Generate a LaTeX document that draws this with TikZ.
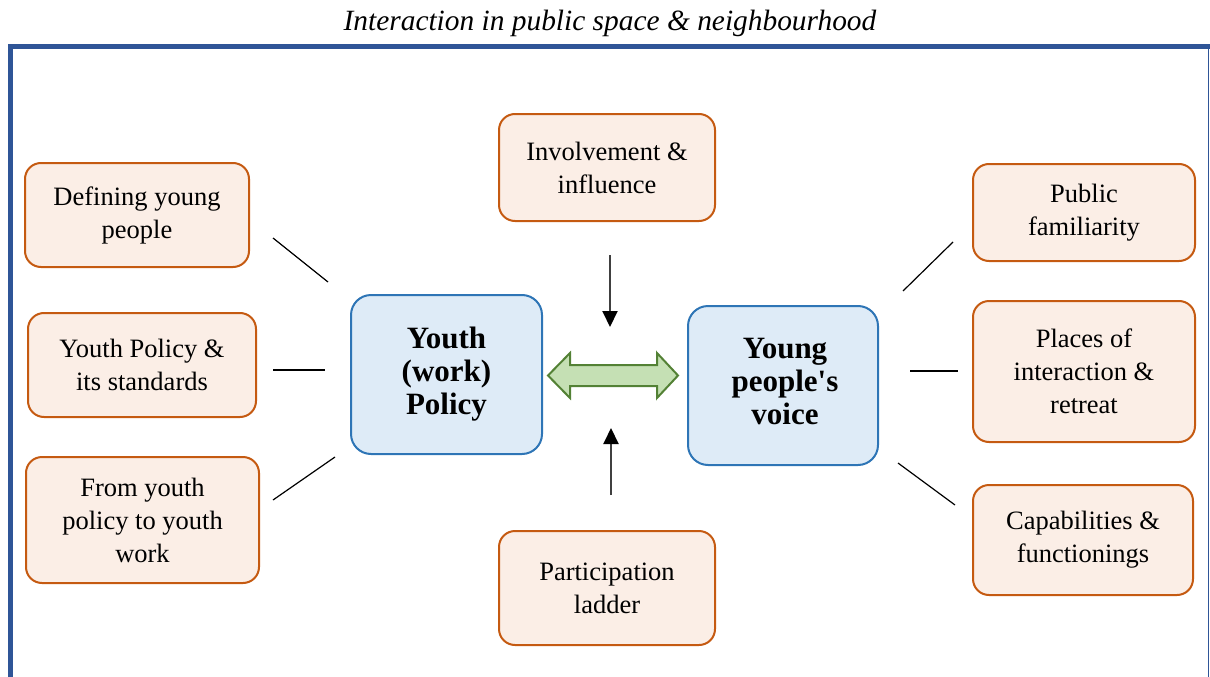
\documentclass[tikz,border=0pt]{standalone}
\usepackage{fontspec}
\setmainfont{Liberation Serif}[Ligatures=TeXOff]
\usetikzlibrary{arrows.meta}
\definecolor{oline}{HTML}{C55A11}
\definecolor{ofill}{HTML}{FBEEE6}
\definecolor{bline}{HTML}{2E75B6}
\definecolor{bfill}{HTML}{DEEBF7}
\definecolor{gline}{HTML}{538135}
\definecolor{gfill}{HTML}{C5E0B4}
\definecolor{frame}{HTML}{2F5597}
\tikzset{
  obox/.style={draw=oline, fill=ofill, line width=2pt, rounded corners=16pt,
    align=center, inner sep=0pt, font=\fontsize{26.5}{33}\selectfont},
  bbox/.style={draw=bline, fill=bfill, line width=2pt, rounded corners=20pt,
    align=center, inner sep=0pt, font=\bfseries\fontsize{31}{33}\selectfont},
  link/.style={black, line width=1.2pt},
  varrow/.style={black!75, line width=2pt, -{Triangle[width=15pt,length=16pt,color=black]}},
}
\begin{document}
\begin{tikzpicture}[x=1pt,y=-1pt]
\useasboundingbox (0,0) rectangle (1210,677);
% frame
\draw[frame, line width=5pt] (10.5,680) -- (10.5,46.5) -- (1212,46.5);
\draw[frame, line width=1.5pt] (1208.5,46.5) -- (1208.5,680);
% title
\node[font=\itshape\fontsize{29.4}{33}\selectfont] (title) at (610,23) {Interaction in public space \& neighbourhood};
% left boxes
\node[obox, minimum width=224pt, minimum height=104pt] (def) at (137,215) {Defining young\\people};
\node[obox, minimum width=228pt, minimum height=104pt] (ypol) at (142,365) {Youth Policy \&\\its standards};
\node[obox, minimum width=233pt, minimum height=126pt] (from) at (142.5,520) {From youth\\policy to youth\\work};
% middle boxes
\node[obox, minimum width=216pt, minimum height=107pt] (inv) at (607,167.5) {Involvement \&\\influence};
\node[obox, minimum width=216pt, minimum height=114pt] (part) at (607,588) {Participation\\ladder};
% right boxes
\node[obox, minimum width=222pt, minimum height=97pt] (pub) at (1084,212.5) {Public\\familiarity};
\node[obox, minimum width=222pt, minimum height=141pt] (places) at (1084,371.5) {Places of\\interaction \&\\retreat};
\node[obox, minimum width=220pt, minimum height=110pt] (cap) at (1083,540) {Capabilities \&\\functionings};
% center boxes
\node[bbox, minimum width=191pt, minimum height=159pt] (yw) at (446.5,374.5) {Youth\\(work)\\Policy};
\node[bbox, minimum width=190pt, minimum height=159pt] (voice) at (783,385.5) {};
\node[font=\bfseries\fontsize{31}{33}\selectfont, align=center] (voicetext) at (785,381) {Young\\people's\\voice};
% double arrow
\draw[draw=gline, fill=gfill, line width=2pt, line join=miter]
  (548,375.5) -- (570,353) -- (570,365) -- (657,365) -- (657,353) -- (678,375.5)
  -- (657,398) -- (657,386) -- (570,386) -- (570,398) -- cycle;
\coordinate (dbl) at (613,375.5);
% connector coordinates
\coordinate (a1) at (273,238); \coordinate (a2) at (328,282);
\coordinate (b1) at (273,370); \coordinate (b2) at (325,370);
\coordinate (c1) at (273,500); \coordinate (c2) at (335,457);
\coordinate (d1) at (903,291); \coordinate (d2) at (953,242);
\coordinate (e1) at (910,371); \coordinate (e2) at (958,371);
\coordinate (f1) at (898,463); \coordinate (f2) at (955,505);
\coordinate (g1) at (610,255); \coordinate (g2) at (610,327);
\coordinate (h1) at (611,495); \coordinate (h2) at (611,428);
\draw[link] (a1) -- (a2);
\draw[link] (b1) -- (b2);
\draw[link] (c1) -- (c2);
\draw[link] (d1) -- (d2);
\draw[link] (e1) -- (e2);
\draw[link] (f1) -- (f2);
\draw[varrow] (g1) -- (g2);
\draw[varrow] (h1) -- (h2);
\end{tikzpicture}
\end{document}
